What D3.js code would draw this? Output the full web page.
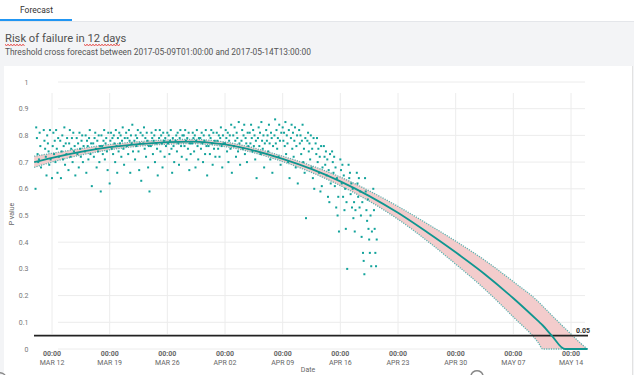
<!DOCTYPE html>
<html><head><meta charset="utf-8">
<script src="https://cdn.jsdelivr.net/npm/d3@7"></script>
<style>
html,body{margin:0;padding:0;background:#fff;overflow:hidden;}
svg{display:block;font-family:Roboto,"Open Sans",sans-serif;}
</style></head><body>
<svg id="c" width="634" height="375"></svg>
<script>
// ---------- data ----------
const tabLabel = "Forecast";
const titleText = "Risk of failure in 12 days";
const subtitleText = "Threshold cross forecast between 2017-05-09T01:00:00 and 2017-05-14T13:00:00";
const xAxisTitle = "Date";
const yAxisTitle = "P value";
const threshold = 0.05;
const yTicks = [0, 0.1, 0.2, 0.3, 0.4, 0.5, 0.6, 0.7, 0.8, 0.9, 1];
const xTickDates = ["2017-03-12","2017-03-19","2017-03-26","2017-04-02","2017-04-09","2017-04-16","2017-04-23","2017-04-30","2017-05-07","2017-05-14"];
const xTickTime = "00:00";

// observed P values: one list per day, readings every 2 hours from 00:00
const scatterFirstDay = "2017-03-10";
const scatterStepHours = 2;
const scatterValues = [
  [0.60,0.83,0.79,0.73,0.70,0.71,0.81,0.76,0.68],
  [0.82,0.78,0.75,0.72,0.65,0.80,0.77,0.74,0.69,0.82,0.71],
  [0.64,0.76,0.81,0.73,0.78,0.70,0.82,0.75,0.66,0.79,0.72],
  [0.78,0.64,0.74,0.80,0.71,0.76,0.83,0.69,0.77,0.73,0.79],
  [0.67,0.77,0.82,0.72,0.75,0.79,0.70,0.81,0.74,0.76,0.65],
  [0.79,0.73,0.77,0.68,0.81,0.75,0.72,0.78,0.80,0.70,0.76],
  [0.74,0.80,0.66,0.78,0.76,0.71,0.79,0.82,0.73,0.77,0.61],
  [0.77,0.72,0.79,0.81,0.75,0.68,0.78,0.74,0.80,0.70,0.76,0.59],
  [0.80,0.76,0.73,0.78,0.82,0.71,0.77,0.79,0.74,0.67,0.81],
  [0.62,0.78,0.81,0.75,0.79,0.73,0.80,0.77,0.70,0.82,0.76,0.66],
  [0.79,0.74,0.81,0.77,0.80,0.72,0.78,0.83,0.75,0.69,0.79],
  [0.81,0.76,0.79,0.73,0.82,0.78,0.66,0.80,0.77,0.84,0.74],
  [0.78,0.71,0.80,0.76,0.79,0.82,0.74,0.67,0.77,0.81,0.63],
  [0.80,0.77,0.83,0.75,0.79,0.72,0.81,0.78,0.68,0.76,0.59],
  [0.76,0.81,0.79,0.73,0.78,0.80,0.70,0.82,0.77,0.75,0.65],
  [0.79,0.82,0.74,0.80,0.77,0.68,0.81,0.78,0.72,0.79,0.76],
  [0.81,0.77,0.80,0.73,0.78,0.82,0.75,0.66,0.79,0.76,0.70],
  [0.78,0.80,0.74,0.81,0.77,0.69,0.79,0.82,0.76,0.72,0.80],
  [0.80,0.76,0.82,0.78,0.71,0.79,0.75,0.81,0.67,0.77,0.73],
  [0.77,0.81,0.79,0.74,0.80,0.68,0.78,0.82,0.76,0.71,0.79],
  [0.79,0.75,0.81,0.77,0.70,0.80,0.78,0.73,0.82,0.76,0.65],
  [0.76,0.80,0.73,0.79,0.82,0.77,0.69,0.81,0.75,0.78,0.72],
  [0.81,0.78,0.75,0.80,0.72,0.79,0.83,0.76,0.68,0.80,0.77],
  [0.77,0.82,0.79,0.74,0.81,0.70,0.78,0.80,0.75,0.84,0.66],
  [0.80,0.76,0.83,0.78,0.72,0.81,0.79,0.74,0.85,0.77,0.69],
  [0.78,0.82,0.75,0.80,0.84,0.73,0.79,0.77,0.70,0.81,0.76],
  [0.81,0.77,0.84,0.79,0.74,0.82,0.76,0.80,0.71,0.78,0.64],
  [0.79,0.83,0.76,0.81,0.73,0.85,0.78,0.75,0.80,0.68,0.77],
  [0.82,0.78,0.80,0.74,0.84,0.77,0.71,0.81,0.79,0.66,0.76],
  [0.80,0.86,0.77,0.82,0.75,0.79,0.72,0.84,0.78,0.69,0.81],
  [0.83,0.78,0.81,0.76,0.85,0.73,0.80,0.77,0.70,0.82,0.64],
  [0.79,0.84,0.75,0.81,0.72,0.78,0.83,0.68,0.76,0.80,0.62],
  [0.82,0.77,0.80,0.73,0.78,0.84,0.70,0.75,0.66,0.79,0.49],
  [0.78,0.81,0.74,0.77,0.71,0.80,0.68,0.75,0.64,0.79,0.60],
  [0.77,0.73,0.79,0.70,0.75,0.66,0.72,0.59,0.76,0.61,0.68],
  [0.76,0.72,0.69,0.74,0.65,0.71,0.57,0.67,0.55,0.73,0.62],
  [0.74,0.70,0.66,0.72,0.61,0.68,0.53,0.64,0.50,0.57,0.44],
  [0.71,0.67,0.62,0.69,0.57,0.65,0.52,0.60,0.45,0.55,0.30],
  [0.69,0.64,0.66,0.58,0.62,0.53,0.60,0.49,0.55,0.44,0.52],
  [0.66,0.62,0.57,0.64,0.53,0.59,0.50,0.42,0.55,0.36,0.33,0.28],
  [0.64,0.59,0.52,0.48,0.56,0.45,0.41,0.36,0.50,0.31,0.44],
  [0.60,0.52,0.45,0.36,0.31,0.41]
];

// fitted model + confidence band
const forecastDates = ["2017-03-09T20:00","2017-03-12T00:00","2017-03-19T00:00","2017-03-26T00:00","2017-03-29T00:00","2017-04-02T00:00","2017-04-09T00:00","2017-04-16T00:00","2017-04-23T00:00","2017-04-26T12:00","2017-04-30T00:00","2017-05-03T12:00","2017-05-07T00:00","2017-05-10T00:00","2017-05-10T14:00","2017-05-11T16:00","2017-05-13T06:00","2017-05-14T00:00","2017-05-15T00:00","2017-05-16T00:00"];
const forecastMean  = [0.700,0.716,0.756,0.775,0.777,0.766,0.712,0.628,0.510,0.438,0.362,0.281,0.190,0.105,0.088,0.050,0.000,0.000,0.000,0.000];
const forecastLower = [0.680,0.700,0.746,0.767,0.769,0.758,0.702,0.612,0.486,0.406,0.318,0.225,0.120,0.025,0.000,0.000,0.000,0.000,0.000,0.000];
const forecastUpper = [0.722,0.733,0.766,0.783,0.785,0.775,0.722,0.644,0.534,0.470,0.404,0.333,0.252,0.178,0.160,0.126,0.078,0.056,0.026,0.000];

// ---------- drawing ----------
const svg = d3.select("#c");
const W = 634, H = 375;
const parseDay = d3.utcParse("%Y-%m-%d");
const parseDT = d3.utcParse("%Y-%m-%dT%H:%M");

// page chrome
svg.append("rect").attr("width",W).attr("height",H).attr("fill","#f3f4f6");
svg.append("rect").attr("x",0).attr("y",0).attr("width",W).attr("height",21).attr("fill","#ffffff");
svg.append("line").attr("x1",0).attr("x2",W).attr("y1",21.5).attr("y2",21.5).attr("stroke","#e4e6ea");
svg.append("rect").attr("x",0).attr("y",19).attr("width",72).attr("height",2).attr("fill","#2196f3");
svg.append("text").attr("x",20).attr("y",13).attr("font-size",8.5).attr("fill","#333").text(tabLabel);
svg.append("rect").attr("x",4).attr("y",66).attr("width",628).attr("height",H-66).attr("fill","#ffffff");
svg.append("line").attr("x1",632.5).attr("x2",632.5).attr("y1",66).attr("y2",H).attr("stroke","#e2e2e2");

svg.append("text").attr("x",5).attr("y",42).attr("font-size",11.2).attr("fill","#505050").text(titleText);
svg.append("text").attr("x",5).attr("y",54.5).attr("font-size",8.4).attr("fill","#555").text(subtitleText);

// spell-check squiggles under "Risk" and "12 days"
function squiggle(x0,x1,yy){
  const pts=[]; for(let x=x0,i=0;x<=x1;x+=1.5,i++) pts.push([x, yy + (i%2?1:0)]);
  svg.append("path").attr("d",d3.line()(pts)).attr("fill","none").attr("stroke","#e53935").attr("stroke-width",1);
}
squiggle(5,25,44.5);
squiggle(84,121,44.5);

// scales
const x = d3.scaleUtc().domain([parseDay(xTickDates[0]), parseDay(xTickDates[xTickDates.length-1])]).range([52,571]);
const y = d3.scaleLinear().domain([0,1]).range([349,82]);

// grid
const g = svg.append("g");
g.selectAll(".hg").data(yTicks).join("line")
  .attr("x1",58).attr("x2",585).attr("y1",d=>y(d)).attr("y2",d=>y(d))
  .attr("stroke","#ececec").attr("stroke-width",1);
g.selectAll(".vg").data(xTickDates).join("line")
  .attr("x1",d=>x(parseDay(d))).attr("x2",d=>x(parseDay(d))).attr("y1",93).attr("y2",334)
  .attr("stroke","#ececec").attr("stroke-width",1);

// y tick labels
g.selectAll(".yl").data(yTicks).join("text")
  .attr("x",28.5).attr("y",d=>y(d)+2.5).attr("text-anchor","end")
  .attr("font-size",7).attr("fill","#777").text(d=>d===0?"0":d3.format("~g")(d));
// x tick labels
const fmt = d3.utcFormat("%b %d");
const xl = g.selectAll(".xl").data(xTickDates).join("g").attr("transform",d=>`translate(${x(parseDay(d))},0)`);
xl.append("text").attr("y",356).attr("text-anchor","middle").attr("font-size",7).attr("font-weight","bold").attr("fill","#666").text(xTickTime);
xl.append("text").attr("y",364.5).attr("text-anchor","middle").attr("font-size",7).attr("fill","#666").text(d=>fmt(parseDay(d)).toUpperCase());
svg.append("text").attr("x",308).attr("y",371.5).attr("text-anchor","middle").attr("font-size",7).attr("fill","#666").text(xAxisTitle);
svg.append("text").attr("transform","translate(14,214) rotate(-90)").attr("text-anchor","middle").attr("font-size",7).attr("fill","#666").text(yAxisTitle);

// forecast band
const fc = forecastDates.map((d,i)=>({t:parseDT(d), m:forecastMean[i], lo:forecastLower[i], hi:forecastUpper[i]}));
const curve = d3.curveMonotoneX;
svg.append("path").datum(fc)
  .attr("d",d3.area().x(d=>x(d.t)).y0(d=>y(d.lo)).y1(d=>y(d.hi)).curve(curve))
  .attr("fill","#f2c6c6").attr("fill-opacity",0.9);
["lo","hi"].forEach(k=>{
  svg.append("path").datum(fc)
    .attr("d",d3.line().x(d=>x(d.t)).y(d=>y(d[k])).curve(curve))
    .attr("fill","none").attr("stroke","#5fb3b0").attr("stroke-width",1.3).attr("stroke-dasharray","1.2,1.2");
});

// threshold line
svg.append("line").attr("x1",34).attr("x2",588).attr("y1",y(threshold)).attr("y2",y(threshold))
  .attr("stroke","#222").attr("stroke-width",1.8);
svg.append("text").attr("x",576).attr("y",y(threshold)-3).attr("font-size",7).attr("font-weight","bold").attr("fill","#333").text(d3.format(".2f")(threshold));

// scatter points
const day0 = parseDay(scatterFirstDay);
const pts = [];
scatterValues.forEach((vals,di)=>vals.forEach((v,i)=>pts.push({t:d3.utcHour.offset(d3.utcDay.offset(day0,di), i*scatterStepHours), v})));
svg.append("g").selectAll("rect").data(pts).join("rect")
  .attr("x",d=>x(d.t)-1).attr("y",d=>y(d.v)-1).attr("width",2).attr("height",2)
  .attr("fill","#12a39b");

// mean line
svg.append("path").datum(fc)
  .attr("d",d3.line().x(d=>x(d.t)).y(d=>y(d.m)).curve(curve))
  .attr("fill","none").attr("stroke","#0f9690").attr("stroke-width",1.8);

// UI spinner remnants
const arc = d3.arc();
svg.append("path").attr("transform","translate(0,151)").attr("d",arc({innerRadius:5.5,outerRadius:7,startAngle:Math.PI*1.15,endAngle:Math.PI*1.85})).attr("fill","#888");
svg.append("path").attr("transform","translate(477,377)").attr("d",arc({innerRadius:5.5,outerRadius:7,startAngle:-Math.PI*0.4,endAngle:Math.PI*0.4})).attr("fill","#888");
svg.append("path").attr("transform","translate(0,379)").attr("d",arc({innerRadius:5.5,outerRadius:7,startAngle:0,endAngle:Math.PI*0.45})).attr("fill","#888");
</script>
</body></html>
